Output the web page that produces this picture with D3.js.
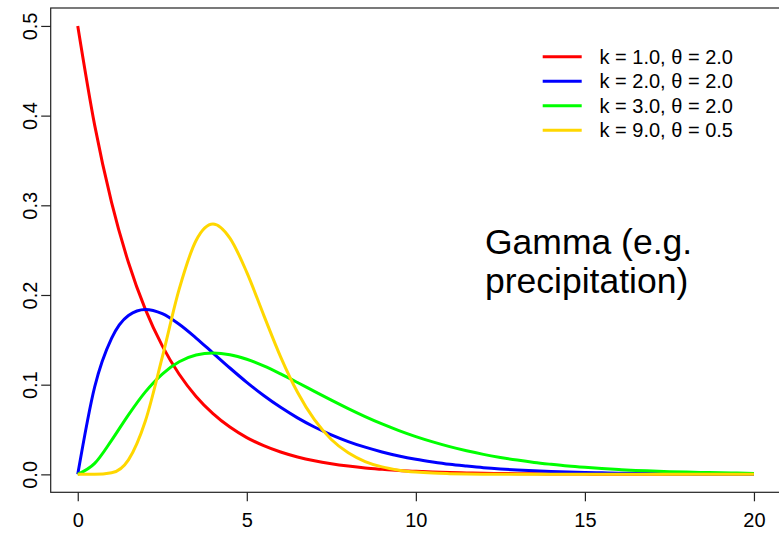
<!DOCTYPE html>
<html>
<head>
<meta charset="utf-8">
<script src="https://cdn.jsdelivr.net/npm/d3@7"></script>
<style>
  html, body { margin: 0; padding: 0; background: #fff; }
  svg { display: block; font-family: "Liberation Sans", Arial, sans-serif; }
</style>
</head>
<body>
<svg id="chart" width="779" height="533"></svg>
<script>
// x sample positions (0 to 20, step 0.5)
const xValues = [0,0.5,1,1.5,2,2.5,3,3.5,4,4.5,5,5.5,6,6.5,7,7.5,8,8.5,9,9.5,10,
  10.5,11,11.5,12,12.5,13,13.5,14,14.5,15,15.5,16,16.5,17,17.5,18,18.5,19,19.5,20];

const redValues = [0.5,0.3894,0.3033,0.2362,0.1839,0.1433,0.1116,0.0869,0.0677,0.0527,0.0410,
  0.0320,0.0249,0.0194,0.0151,0.0118,0.0092,0.0071,0.0056,0.0043,0.0034,
  0.0026,0.0020,0.0016,0.0012,0.0010,0.0008,0.0006,0.0005,0.0004,0.0003,
  0.0002,0.0002,0.0001,0.0001,0.0001,0.0001,0.0000,0.0000,0.0000,0.0000];

const blueValues = [0,0.0974,0.1516,0.1771,0.1839,0.1791,0.1673,0.1520,0.1353,0.1186,0.1026,
  0.0879,0.0747,0.0630,0.0528,0.0441,0.0366,0.0303,0.0250,0.0205,0.0168,
  0.0138,0.0112,0.0092,0.0074,0.0060,0.0049,0.0040,0.0032,0.0026,0.0021,
  0.0017,0.0013,0.0011,0.0009,0.0007,0.0006,0.0004,0.0004,0.0003,0.0002];

const greenValues = [0,0.0122,0.0379,0.0664,0.0920,0.1119,0.1255,0.1330,0.1353,0.1334,0.1283,
  0.1209,0.1120,0.1024,0.0925,0.0827,0.0733,0.0644,0.0562,0.0488,0.0421,
  0.0362,0.0309,0.0263,0.0223,0.0189,0.0159,0.0133,0.0112,0.0093,0.0078,
  0.0065,0.0054,0.0044,0.0037,0.0030,0.0025,0.0021,0.0017,0.0014,0.0011];

const yellowValues = [0,0.0000,0.0017,0.0162,0.0595,0.1306,0.2065,0.2608,0.2792,0.2635,0.2252,
  0.1776,0.1311,0.0915,0.0609,0.0389,0.0240,0.0143,0.0083,0.0047,0.0026,
  0.0014,0.0008,0.0004,0.0002,0.0001,0.0001,0,0,0,0,
  0,0,0,0,0,0,0,0,0,0];

const seriesLabels = ["k = 1.0, \u03B8 = 2.0", "k = 2.0, \u03B8 = 2.0", "k = 3.0, \u03B8 = 2.0", "k = 9.0, \u03B8 = 0.5"];
const seriesColors = ["#FF0000", "#0000FF", "#00FF00", "#FFD700"];
const xTicks = [0, 5, 10, 15, 20];
const yTicks = [0.0, 0.1, 0.2, 0.3, 0.4, 0.5];
const yTickLabels = ["0.0", "0.1", "0.2", "0.3", "0.4", "0.5"];
const annotationLines = ["Gamma (e.g.", "precipitation)"];

const series = [redValues, blueValues, greenValues, yellowValues];

const svg = d3.select("#chart");
svg.append("rect").attr("width", 779).attr("height", 533).attr("fill", "#fff");

const box = { left: 50.7, right: 781, top: 8, bottom: 492.3 };
const x = d3.scaleLinear().domain([-0.8, 20.8]).range([box.left, box.right]);
const y = d3.scaleLinear().domain([-0.02, 0.52]).range([box.bottom, box.top]);

// curves
const line = d3.line()
  .x((d, i) => x(xValues[i]))
  .y(d => y(d))
  .curve(d3.curveMonotoneX);

series.forEach((vals, i) => {
  svg.append("path")
    .datum(vals)
    .attr("d", line)
    .attr("fill", "none")
    .attr("stroke", seriesColors[i])
    .attr("stroke-width", 3)
    .attr("stroke-linejoin", "round");
});

// box
svg.append("rect")
  .attr("x", box.left).attr("y", box.top)
  .attr("width", box.right - box.left).attr("height", box.bottom - box.top)
  .attr("fill", "none").attr("stroke", "#222").attr("stroke-width", 1.2);

// x axis
const xAxis = d3.axisBottom(x).tickValues(xTicks).tickFormat(d3.format("d")).tickSize(9).tickPadding(8);
const gx = svg.append("g").attr("transform", `translate(0,${box.bottom})`).call(xAxis);
gx.select(".domain").remove();
gx.selectAll(".tick line").attr("stroke", "#222").attr("stroke-width", 1.2);
gx.selectAll(".tick text").attr("font-size", 20).attr("fill", "#000")
  .attr("font-family", "Liberation Sans, Arial, sans-serif")
  .attr("dy", null).attr("y", 35);

// y axis
const yAxis = d3.axisLeft(y).tickValues(yTicks).tickFormat((d, i) => yTickLabels[i]).tickSize(9.5);
const gy = svg.append("g").attr("transform", `translate(${box.left},0)`).call(yAxis);
gy.select(".domain").remove();
gy.selectAll(".tick line").attr("stroke", "#222").attr("stroke-width", 1.2);
gy.selectAll(".tick text").remove();
gy.selectAll(".tick").append("text")
  .attr("transform", "translate(-21.5,0) rotate(-90)")
  .attr("text-anchor", "middle")
  .attr("y", 7.5)
  .attr("font-size", 20)
  .attr("fill", "#000")
  .attr("font-family", "Liberation Sans, Arial, sans-serif")
  .text((d, i) => yTickLabels[i]);

// legend
const legendY = [56.7, 81.2, 105.7, 130.2];
seriesLabels.forEach((lab, i) => {
  svg.append("line")
    .attr("x1", 542.7).attr("x2", 581.7)
    .attr("y1", legendY[i]).attr("y2", legendY[i])
    .attr("stroke", seriesColors[i]).attr("stroke-width", 3);
  svg.append("text")
    .attr("x", 599.5).attr("y", legendY[i] + 6.9)
    .attr("font-size", 20).attr("fill", "#000")
    .text(lab);
});

// annotation
annotationLines.forEach((t, i) => {
  svg.append("text")
    .attr("x", 485).attr("y", 253.5 + i * 39.5)
    .attr("font-size", 35.5).attr("fill", "#000")
    .text(t);
});
</script>
</body>
</html>
